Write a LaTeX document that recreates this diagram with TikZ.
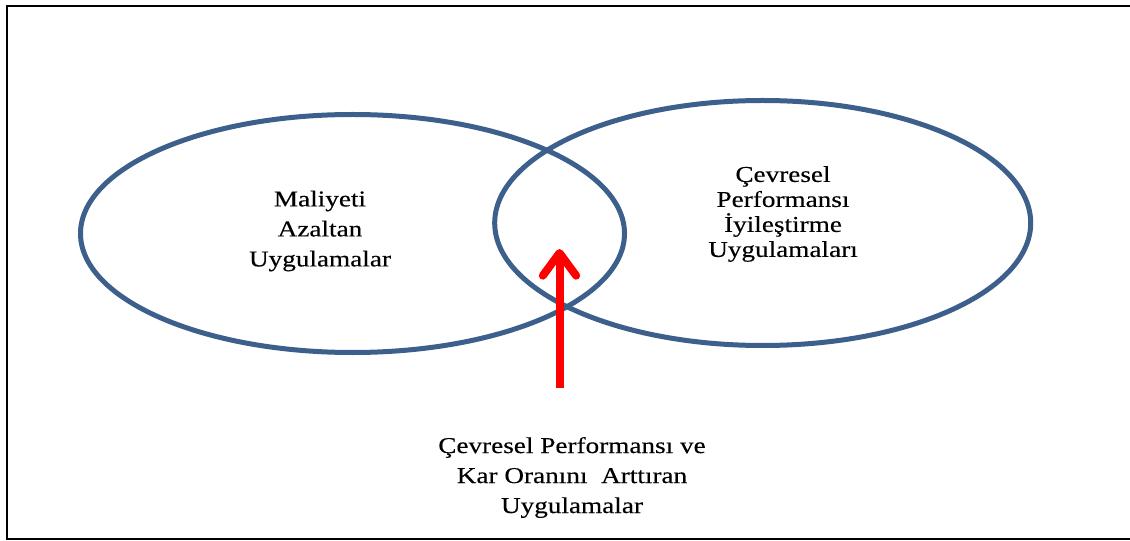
\documentclass[tikz,border=0pt]{standalone}
\usepackage{fontspec}
\setmainfont{Liberation Serif}[FakeStretch=1.2, FakeBold=0.3]
\usetikzlibrary{arrows.meta}
\definecolor{vennblue}{RGB}{61,95,140}
\definecolor{arrowred}{RGB}{255,0,0}
\tikzset{
  venn/.style={draw=vennblue, line width=3.75pt},
  frameline/.style={draw=black, line width=2pt},
  label/.style={inner sep=0pt, align=center, text=black, font=\fontsize{17}{22.5}\selectfont},
  redarrow/.style={draw=arrowred, line width=6pt, -{Straight Barb[round, length=17pt, width=25pt]}}
}
\begin{document}
\begin{tikzpicture}[x=0.75pt, y=-0.75pt]
\useasboundingbox (0,0) rectangle (1130,541);
% frame (open on the right)
\draw[frameline] (1130,6) -- (7,6) -- (7,539) -- (1130,539);
% ellipses
\draw[venn] (352.5,233.5) ellipse [x radius=272, y radius=119];
\draw[venn] (762.7,223) ellipse [x radius=268, y radius=122.5];
% texts
\node[label] (left) at (320,231) {Maliyeti\\Azaltan\\Uygulamalar};
\node[label, font=\fontsize{17}{18.75}\selectfont] (right) at (783,214) {Çevresel\\Performansı\\İyileştirme\\Uygulamaları};
\node[label] (bottom) at (572,477.5) {Çevresel Performansı ve\\Kar Oranını\ \ Arttıran\\Uygulamalar};
% arrow
\coordinate (arrowstart) at (559.5,388);
\coordinate (arrowtip) at (559.5,249);
\draw[redarrow] (arrowstart) -- (arrowtip);
\end{tikzpicture}
\end{document}
